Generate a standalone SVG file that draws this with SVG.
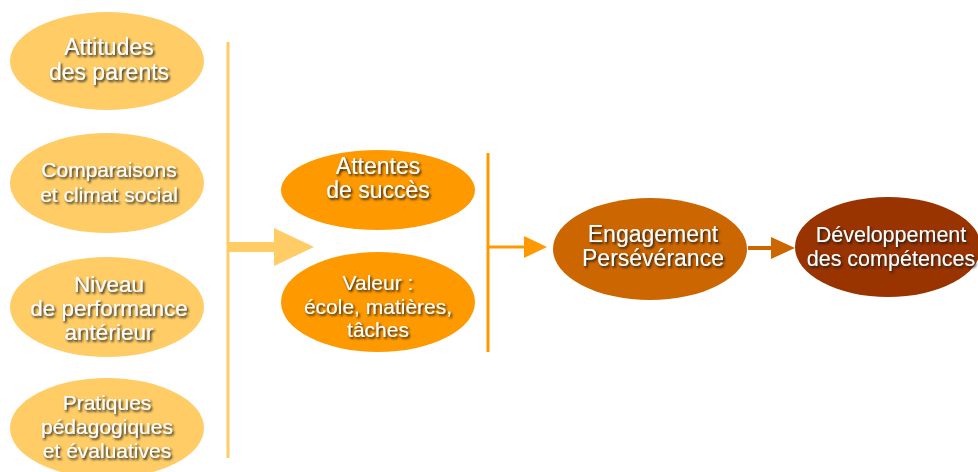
<svg xmlns="http://www.w3.org/2000/svg" width="978" height="472" viewBox="0 0 978 472">
<defs>
<filter id="sh" x="-10%" y="-30%" width="120%" height="160%">
<feDropShadow dx="1.5" dy="1.8" stdDeviation="0.8" flood-color="#1a1a1a" flood-opacity="1"/>
</filter>
</defs>
<style>
text{font-family:"Liberation Sans",Arial,sans-serif;fill:#fff;text-anchor:middle;filter:url(#sh)}
.l{fill:#FFCC66}
.m{fill:#FF9900}
.e{fill:#CC6600}
.d{fill:#993300}
</style>
<rect width="978" height="472" fill="#fff"/>
<g id="connectors">
<line x1="228" y1="42" x2="228" y2="458" stroke="#FFCC66" stroke-width="3"/>
<line x1="228" y1="247" x2="278" y2="247" stroke="#FFCC66" stroke-width="10"/>
<polygon points="274,228 314,247 274,266" fill="#FFCC66"/>
<line x1="488" y1="153" x2="488" y2="352" stroke="#FF9900" stroke-width="3"/>
<line x1="488" y1="247" x2="528" y2="247" stroke="#FF9900" stroke-width="3"/>
<polygon points="524,236 547,247 524,258" fill="#FF9900"/>
<line x1="748" y1="248" x2="775" y2="248" stroke="#CC6600" stroke-width="4"/>
<polygon points="771,237 795,248 771,259" fill="#CC6600"/>
</g>
<g id="n1"><ellipse class="l" cx="107" cy="61" rx="97" ry="49"/>
<text x="109" y="55" font-size="23">Attitudes</text><text x="109" y="80" font-size="23">des parents</text></g>
<g id="n2"><ellipse class="l" cx="107" cy="183" rx="97" ry="50"/>
<text x="109" y="177" font-size="21">Comparaisons</text><text x="109" y="202" font-size="21">et climat social</text></g>
<g id="n3"><ellipse class="l" cx="107" cy="307" rx="97" ry="50"/>
<text x="109" y="292" font-size="22.5">Niveau</text><text x="109" y="316" font-size="22.5">de performance</text><text x="109" y="340" font-size="22.5">antérieur</text></g>
<g id="n4"><ellipse class="l" cx="107" cy="428" rx="97" ry="50"/>
<text x="107" y="410" font-size="21">Pratiques</text><text x="107" y="434" font-size="21">pédagogiques</text><text x="107" y="458" font-size="21">et évaluatives</text></g>
<g id="n5"><ellipse class="m" cx="378" cy="190" rx="97" ry="40"/>
<text x="378" y="174" font-size="23">Attentes</text><text x="378" y="198" font-size="23">de succès</text></g>
<g id="n6"><ellipse class="m" cx="378" cy="302" rx="97" ry="50"/>
<text x="378" y="290" font-size="21">Valeur :</text><text x="378" y="314" font-size="21">école, matières,</text><text x="378" y="337" font-size="21">tâches</text></g>
<g id="n7"><ellipse class="e" cx="650" cy="249" rx="97" ry="51"/>
<text x="653" y="242" font-size="23">Engagement</text><text x="653" y="266" font-size="23">Persévérance</text></g>
<g id="n8"><ellipse class="d" cx="888" cy="247" rx="93" ry="50"/>
<text x="891" y="242" font-size="21.5">Développement</text><text x="891" y="266" font-size="21.5">des compétences</text></g>
</svg>
